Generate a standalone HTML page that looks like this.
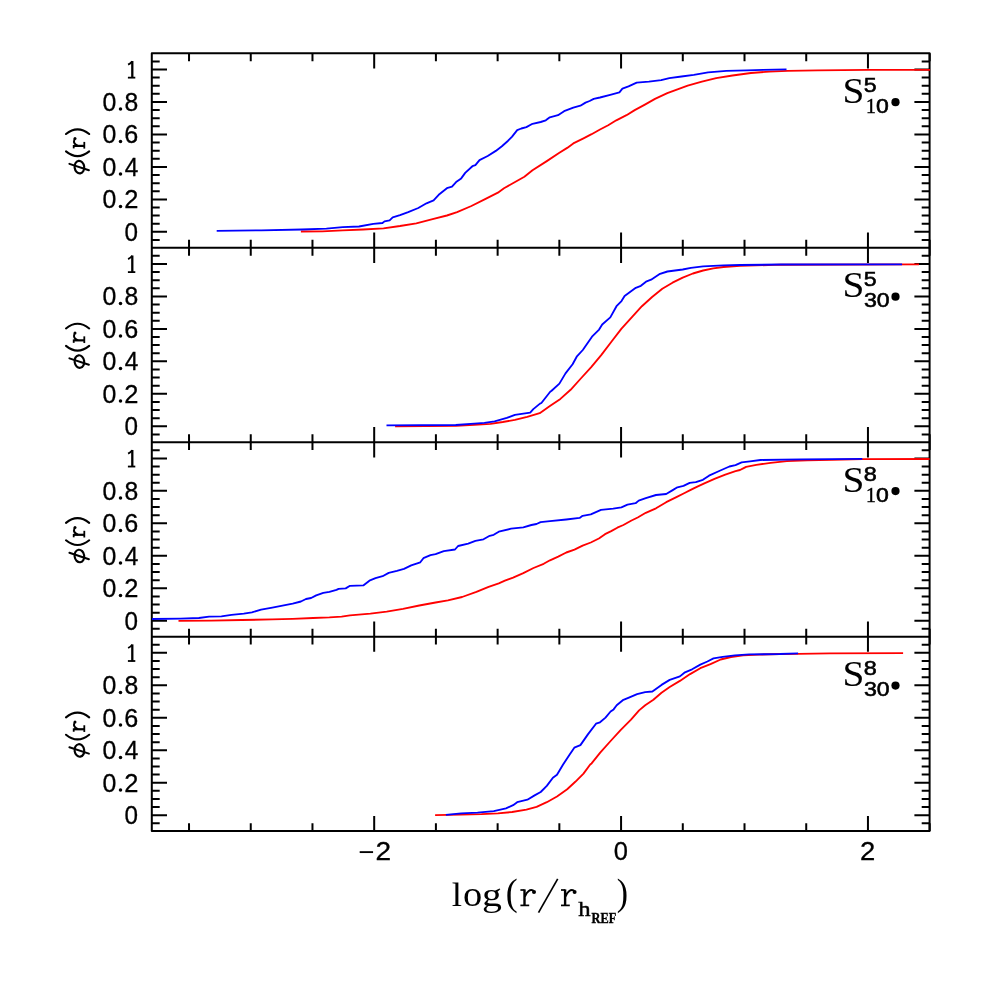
<!DOCTYPE html>
<html><head><meta charset="utf-8"><title>chart</title>
<style>html,body{margin:0;padding:0;background:#fff;width:981px;height:981px;overflow:hidden}body{position:relative;font-family:"Liberation Sans",sans-serif}</style>
</head><body>
<svg width="981" height="981" viewBox="0 0 981 981" style="position:absolute;left:0;top:0;will-change:transform">
<rect width="981" height="981" fill="#fff"/>
<g stroke="#000" stroke-width="2" fill="none" stroke-linecap="butt">
<path d="M189.03,53.30v7.90M189.03,247.75v-7.90M250.75,53.30v7.90M250.75,247.75v-7.90M312.47,53.30v7.90M312.47,247.75v-7.90M374.19,53.30v15.20M374.19,247.75v-15.20M435.91,53.30v7.90M435.91,247.75v-7.90M497.63,53.30v7.90M497.63,247.75v-7.90M559.35,53.30v7.90M559.35,247.75v-7.90M621.07,53.30v15.20M621.07,247.75v-15.20M682.79,53.30v7.90M682.79,247.75v-7.90M744.51,53.30v7.90M744.51,247.75v-7.90M806.23,53.30v7.90M806.23,247.75v-7.90M867.95,53.30v15.20M867.95,247.75v-15.20M929.67,53.30v7.90M929.67,247.75v-7.90M151.80,239.97h7.90M929.60,239.97h-7.90M151.80,231.85h15.20M929.60,231.85h-15.20M151.80,223.73h7.90M929.60,223.73h-7.90M151.80,215.62h7.90M929.60,215.62h-7.90M151.80,207.50h7.90M929.60,207.50h-7.90M151.80,199.38h15.20M929.60,199.38h-15.20M151.80,191.26h7.90M929.60,191.26h-7.90M151.80,183.14h7.90M929.60,183.14h-7.90M151.80,175.03h7.90M929.60,175.03h-7.90M151.80,166.91h15.20M929.60,166.91h-15.20M151.80,158.79h7.90M929.60,158.79h-7.90M151.80,150.68h7.90M929.60,150.68h-7.90M151.80,142.56h7.90M929.60,142.56h-7.90M151.80,134.44h15.20M929.60,134.44h-15.20M151.80,126.32h7.90M929.60,126.32h-7.90M151.80,118.20h7.90M929.60,118.20h-7.90M151.80,110.09h7.90M929.60,110.09h-7.90M151.80,101.97h15.20M929.60,101.97h-15.20M151.80,93.85h7.90M929.60,93.85h-7.90M151.80,85.73h7.90M929.60,85.73h-7.90M151.80,77.62h7.90M929.60,77.62h-7.90M151.80,69.50h15.20M929.60,69.50h-15.20M151.80,61.38h7.90M929.60,61.38h-7.90M189.03,247.75v7.90M189.03,442.20v-7.90M250.75,247.75v7.90M250.75,442.20v-7.90M312.47,247.75v7.90M312.47,442.20v-7.90M374.19,247.75v15.20M374.19,442.20v-15.20M435.91,247.75v7.90M435.91,442.20v-7.90M497.63,247.75v7.90M497.63,442.20v-7.90M559.35,247.75v7.90M559.35,442.20v-7.90M621.07,247.75v15.20M621.07,442.20v-15.20M682.79,247.75v7.90M682.79,442.20v-7.90M744.51,247.75v7.90M744.51,442.20v-7.90M806.23,247.75v7.90M806.23,442.20v-7.90M867.95,247.75v15.20M867.95,442.20v-15.20M929.67,247.75v7.90M929.67,442.20v-7.90M151.80,434.42h7.90M929.60,434.42h-7.90M151.80,426.30h15.20M929.60,426.30h-15.20M151.80,418.18h7.90M929.60,418.18h-7.90M151.80,410.06h7.90M929.60,410.06h-7.90M151.80,401.95h7.90M929.60,401.95h-7.90M151.80,393.83h15.20M929.60,393.83h-15.20M151.80,385.71h7.90M929.60,385.71h-7.90M151.80,377.59h7.90M929.60,377.59h-7.90M151.80,369.48h7.90M929.60,369.48h-7.90M151.80,361.36h15.20M929.60,361.36h-15.20M151.80,353.24h7.90M929.60,353.24h-7.90M151.80,345.12h7.90M929.60,345.12h-7.90M151.80,337.01h7.90M929.60,337.01h-7.90M151.80,328.89h15.20M929.60,328.89h-15.20M151.80,320.77h7.90M929.60,320.77h-7.90M151.80,312.65h7.90M929.60,312.65h-7.90M151.80,304.54h7.90M929.60,304.54h-7.90M151.80,296.42h15.20M929.60,296.42h-15.20M151.80,288.30h7.90M929.60,288.30h-7.90M151.80,280.19h7.90M929.60,280.19h-7.90M151.80,272.07h7.90M929.60,272.07h-7.90M151.80,263.95h15.20M929.60,263.95h-15.20M151.80,255.83h7.90M929.60,255.83h-7.90M189.03,442.20v7.90M189.03,636.65v-7.90M250.75,442.20v7.90M250.75,636.65v-7.90M312.47,442.20v7.90M312.47,636.65v-7.90M374.19,442.20v15.20M374.19,636.65v-15.20M435.91,442.20v7.90M435.91,636.65v-7.90M497.63,442.20v7.90M497.63,636.65v-7.90M559.35,442.20v7.90M559.35,636.65v-7.90M621.07,442.20v15.20M621.07,636.65v-15.20M682.79,442.20v7.90M682.79,636.65v-7.90M744.51,442.20v7.90M744.51,636.65v-7.90M806.23,442.20v7.90M806.23,636.65v-7.90M867.95,442.20v15.20M867.95,636.65v-15.20M929.67,442.20v7.90M929.67,636.65v-7.90M151.80,628.87h7.90M929.60,628.87h-7.90M151.80,620.75h15.20M929.60,620.75h-15.20M151.80,612.63h7.90M929.60,612.63h-7.90M151.80,604.52h7.90M929.60,604.52h-7.90M151.80,596.40h7.90M929.60,596.40h-7.90M151.80,588.28h15.20M929.60,588.28h-15.20M151.80,580.16h7.90M929.60,580.16h-7.90M151.80,572.05h7.90M929.60,572.05h-7.90M151.80,563.93h7.90M929.60,563.93h-7.90M151.80,555.81h15.20M929.60,555.81h-15.20M151.80,547.69h7.90M929.60,547.69h-7.90M151.80,539.58h7.90M929.60,539.58h-7.90M151.80,531.46h7.90M929.60,531.46h-7.90M151.80,523.34h15.20M929.60,523.34h-15.20M151.80,515.22h7.90M929.60,515.22h-7.90M151.80,507.11h7.90M929.60,507.11h-7.90M151.80,498.99h7.90M929.60,498.99h-7.90M151.80,490.87h15.20M929.60,490.87h-15.20M151.80,482.75h7.90M929.60,482.75h-7.90M151.80,474.64h7.90M929.60,474.64h-7.90M151.80,466.52h7.90M929.60,466.52h-7.90M151.80,458.40h15.20M929.60,458.40h-15.20M151.80,450.28h7.90M929.60,450.28h-7.90M189.03,636.65v7.90M189.03,831.10v-7.90M250.75,636.65v7.90M250.75,831.10v-7.90M312.47,636.65v7.90M312.47,831.10v-7.90M374.19,636.65v15.20M374.19,831.10v-15.20M435.91,636.65v7.90M435.91,831.10v-7.90M497.63,636.65v7.90M497.63,831.10v-7.90M559.35,636.65v7.90M559.35,831.10v-7.90M621.07,636.65v15.20M621.07,831.10v-15.20M682.79,636.65v7.90M682.79,831.10v-7.90M744.51,636.65v7.90M744.51,831.10v-7.90M806.23,636.65v7.90M806.23,831.10v-7.90M867.95,636.65v15.20M867.95,831.10v-15.20M929.67,636.65v7.90M929.67,831.10v-7.90M151.80,823.32h7.90M929.60,823.32h-7.90M151.80,815.20h15.20M929.60,815.20h-15.20M151.80,807.08h7.90M929.60,807.08h-7.90M151.80,798.97h7.90M929.60,798.97h-7.90M151.80,790.85h7.90M929.60,790.85h-7.90M151.80,782.73h15.20M929.60,782.73h-15.20M151.80,774.61h7.90M929.60,774.61h-7.90M151.80,766.50h7.90M929.60,766.50h-7.90M151.80,758.38h7.90M929.60,758.38h-7.90M151.80,750.26h15.20M929.60,750.26h-15.20M151.80,742.14h7.90M929.60,742.14h-7.90M151.80,734.02h7.90M929.60,734.02h-7.90M151.80,725.91h7.90M929.60,725.91h-7.90M151.80,717.79h15.20M929.60,717.79h-15.20M151.80,709.67h7.90M929.60,709.67h-7.90M151.80,701.56h7.90M929.60,701.56h-7.90M151.80,693.44h7.90M929.60,693.44h-7.90M151.80,685.32h15.20M929.60,685.32h-15.20M151.80,677.20h7.90M929.60,677.20h-7.90M151.80,669.09h7.90M929.60,669.09h-7.90M151.80,660.97h7.90M929.60,660.97h-7.90M151.80,652.85h15.20M929.60,652.85h-15.20M151.80,644.73h7.90M929.60,644.73h-7.90"/>
</g>
<g stroke="#000" stroke-width="2" fill="none" stroke-linecap="butt" stroke-linejoin="round">
<rect x="151.80" y="53.30" width="777.80" height="777.80"/>
<line x1="151.80" y1="247.75" x2="929.60" y2="247.75"/>
<line x1="151.80" y1="442.20" x2="929.60" y2="442.20"/>
<line x1="151.80" y1="636.65" x2="929.60" y2="636.65"/>
</g>
<g fill="none" stroke-width="1.85" stroke-linejoin="round" stroke-linecap="butt">
<path d="M300.9,231.5 L322.3,231.3 L342.7,230.3 L363.1,229.5 L383.5,228.3 L400.0,226.0 L416.3,223.3 L432.6,219.2 L446.9,215.5 L457.1,212.1 L471.4,206.0 L485.6,198.8 L497.9,192.7 L504.0,188.2 L514.2,182.5 L524.4,176.8 L532.5,170.3 L546.8,161.1 L559.0,153.0 L567.2,147.9 L573.3,143.4 L583.5,138.3 L591.6,134.2 L600.0,129.5 L608.2,125.2 L616.3,120.3 L626.5,115.2 L634.7,110.1 L644.9,104.6 L655.0,98.9 L667.3,93.2 L677.5,89.3 L687.7,85.7 L701.9,81.6 L716.2,78.1 L732.5,75.5 L750.9,73.0 L769.2,71.6 L787.6,70.8 L817.5,70.4 L868.1,69.9 L930.1,69.9" stroke="#ff0000"/>
<path d="M216.7,230.9 L261.2,230.3 L301.9,229.5 L326.4,228.7 L342.7,227.1 L359.0,226.5 L373.3,223.8 L382.5,223.0 L384.5,221.4 L389.6,220.3 L392.7,217.3 L400.0,215.2 L408.2,212.1 L418.3,208.0 L426.5,203.3 L433.6,200.3 L438.7,194.8 L446.9,188.2 L452.0,186.6 L456.1,182.1 L461.2,178.4 L465.2,172.9 L472.4,166.2 L475.4,165.2 L479.5,160.1 L487.7,156.0 L495.8,150.9 L501.9,146.2 L508.1,140.7 L512.1,136.6 L517.2,130.1 L521.3,128.5 L526.4,127.1 L532.5,123.8 L540.7,122.0 L545.8,120.3 L549.8,117.3 L558.0,115.2 L564.1,111.2 L573.3,107.7 L580.4,105.7 L585.5,102.6 L589.6,101.0 L593.7,98.9 L600.0,97.5 L610.2,94.9 L619.4,92.4 L622.4,88.7 L628.5,86.3 L636.7,82.6 L648.9,81.6 L661.2,80.2 L669.3,78.1 L681.5,76.5 L693.8,74.9 L708.1,72.4 L726.4,70.8 L746.8,70.4 L763.1,69.8 L786.5,69.4" stroke="#0000ff"/>
<path d="M395.1,426.4 L455.8,425.8 L474.2,424.8 L490.5,423.8 L502.7,422.0 L514.9,419.9 L527.2,416.9 L539.7,413.2 L549.9,406.1 L560.4,398.9 L570.6,389.8 L580.8,378.5 L591.0,367.3 L601.2,355.1 L611.4,341.8 L621.5,328.6 L631.7,317.4 L641.9,306.2 L652.1,297.0 L662.3,288.8 L672.5,282.7 L682.7,277.6 L692.9,273.5 L703.1,270.5 L713.3,268.4 L723.5,267.0 L740.0,265.8 L780.8,264.7 L919.0,264.3" stroke="#ff0000"/>
<path d="M386.5,425.4 L455.8,425.0 L474.2,423.6 L484.4,422.8 L494.6,421.4 L506.8,417.9 L514.9,414.8 L530.2,412.6 L533.3,409.1 L540.0,403.6 L541.4,403.0 L550.2,391.8 L551.6,390.8 L559.4,383.6 L565.5,373.4 L572.6,364.3 L576.7,356.7 L582.8,350.0 L592.0,336.7 L599.1,329.6 L602.2,324.5 L610.3,317.4 L616.5,306.2 L621.5,301.1 L624.6,296.0 L635.8,287.8 L640.9,285.8 L646.0,281.7 L651.1,279.7 L659.3,274.2 L667.4,271.5 L682.7,269.5 L690.9,267.8 L703.1,266.4 L723.5,265.4 L740.0,265.0 L780.8,264.5 L902.1,264.3" stroke="#0000ff"/>
<path d="M178.5,620.8 L211.2,620.6 L241.7,620.0 L272.3,619.4 L292.7,618.8 L313.1,618.0 L329.4,617.4 L341.6,616.6 L350.0,615.3 L370.4,613.7 L386.7,611.7 L403.0,608.8 L419.3,605.5 L435.6,602.5 L447.9,600.4 L462.1,597.0 L476.4,591.9 L488.6,586.8 L498.8,583.3 L504.9,580.7 L513.1,577.6 L523.3,573.1 L533.5,568.0 L543.7,563.8 L550.0,560.3 L558.2,556.6 L566.3,552.5 L574.5,549.7 L582.6,545.6 L590.8,542.5 L598.9,538.5 L605.0,534.2 L611.2,531.1 L617.3,527.7 L623.4,525.0 L631.5,520.5 L637.7,517.5 L645.8,512.8 L656.0,508.3 L666.2,502.2 L676.4,497.1 L684.6,493.0 L690.7,489.9 L696.8,486.9 L704.9,483.2 L715.1,478.7 L725.3,474.7 L735.5,471.2 L740.0,470.0 L743.7,468.1 L746.1,466.9 L756.3,464.9 L770.6,462.8 L786.9,461.2 L807.3,460.4 L831.7,459.8 L862.3,459.2 L929.6,459.0" stroke="#ff0000"/>
<path d="M152.0,619.0 L180.6,618.6 L198.9,618.0 L209.1,616.6 L221.4,616.4 L231.5,614.9 L243.8,613.7 L251.9,612.3 L261.1,609.6 L272.3,607.6 L282.5,605.7 L292.7,603.7 L300.9,601.5 L306.0,599.0 L311.1,598.0 L316.2,595.4 L323.3,592.9 L329.4,591.9 L336.5,589.8 L338.6,588.8 L345.7,588.4 L350.0,585.8 L363.3,585.4 L369.4,580.7 L375.5,578.2 L382.6,576.2 L388.7,572.9 L396.9,570.9 L404.0,568.8 L411.2,565.4 L420.3,562.3 L423.4,558.2 L430.5,555.2 L435.6,554.2 L443.8,551.1 L455.0,549.5 L458.1,546.0 L468.2,543.6 L475.4,540.9 L483.5,539.3 L489.7,535.8 L493.7,534.8 L498.8,531.7 L511.1,528.7 L523.3,527.3 L531.4,525.0 L536.5,524.0 L540.6,522.2 L550.0,521.1 L566.3,519.5 L579.6,517.9 L582.6,515.8 L590.8,514.4 L601.0,509.9 L613.2,508.7 L621.4,507.3 L627.5,504.6 L635.6,503.2 L638.7,500.6 L645.8,498.1 L656.0,495.0 L666.2,494.0 L672.3,490.4 L677.4,487.3 L683.5,485.9 L689.7,482.8 L695.8,482.2 L702.9,479.8 L709.0,475.7 L719.2,471.0 L729.4,466.5 L735.5,465.1 L741.6,462.4 L750.0,461.4 L760.4,460.0 L801.2,459.4 L862.3,458.8" stroke="#0000ff"/>
<path d="M435.1,815.2 L461.2,814.6 L481.5,814.2 L497.9,813.4 L512.1,812.0 L526.4,809.7 L536.6,806.9 L546.8,802.2 L557.0,796.5 L567.2,789.3 L575.3,781.8 L583.5,773.6 L590.2,764.5 L591.6,763.4 L600.2,752.7 L610.6,741.0 L620.8,729.8 L631.0,719.6 L639.1,710.4 L645.2,705.3 L653.4,699.8 L661.5,692.7 L669.7,687.0 L679.9,680.9 L690.1,674.1 L700.3,668.2 L710.5,664.2 L720.7,659.5 L730.9,657.0 L743.1,655.4 L759.4,654.6 L780.0,654.0 L798.1,653.8 L829.7,653.3 L903.1,653.1" stroke="#ff0000"/>
<path d="M445.9,814.8 L461.2,813.4 L477.5,812.6 L493.8,811.1 L506.0,808.3 L513.1,805.2 L517.2,802.2 L527.4,799.7 L534.6,795.4 L540.7,792.0 L546.8,785.9 L552.9,777.7 L557.0,774.7 L563.1,764.5 L569.2,755.3 L574.3,747.7 L580.4,745.1 L587.9,734.4 L596.0,723.7 L600.0,722.3 L605.5,717.6 L610.6,711.5 L613.6,709.4 L616.7,705.3 L622.8,700.2 L628.9,697.6 L637.1,694.1 L645.2,692.1 L652.4,691.5 L661.5,684.9 L669.7,679.9 L679.9,676.4 L685.0,672.3 L692.1,669.3 L700.3,664.6 L707.4,661.5 L713.5,658.4 L722.7,656.8 L734.9,655.4 L749.2,654.4 L780.0,654.0 L798.1,653.3" stroke="#0000ff"/>
</g>
<g fill="#000">
<text transform="translate(124.55,240.65) scale(0.2427,0.2514)" font-family="Liberation Sans" font-weight="normal" font-size="100" stroke="#000" stroke-width="1.24">0</text>
<text transform="translate(102.53,208.18) scale(0.2489,0.2514)" font-family="Liberation Sans" font-weight="normal" font-size="100" stroke="#000" stroke-width="1.21">0</text>
<circle cx="120.5" cy="206.53" r="1.75"/>
<text transform="translate(124.22,208.43) scale(0.2546,0.2549)" font-family="Liberation Sans" font-weight="normal" font-size="100" stroke="#000" stroke-width="1.18">2</text>
<text transform="translate(102.53,175.71) scale(0.2489,0.2514)" font-family="Liberation Sans" font-weight="normal" font-size="100" stroke="#000" stroke-width="1.21">0</text>
<circle cx="120.5" cy="174.06" r="1.75"/>
<text transform="translate(124.74,175.96) scale(0.2441,0.2587)" font-family="Liberation Sans" font-weight="normal" font-size="100" stroke="#000" stroke-width="1.23">4</text>
<text transform="translate(102.53,143.24) scale(0.2489,0.2514)" font-family="Liberation Sans" font-weight="normal" font-size="100" stroke="#000" stroke-width="1.21">0</text>
<circle cx="120.5" cy="141.59" r="1.75"/>
<text transform="translate(124.22,143.24) scale(0.2514,0.2514)" font-family="Liberation Sans" font-weight="normal" font-size="100" stroke="#000" stroke-width="1.19">6</text>
<text transform="translate(102.53,110.77) scale(0.2489,0.2514)" font-family="Liberation Sans" font-weight="normal" font-size="100" stroke="#000" stroke-width="1.21">0</text>
<circle cx="120.5" cy="109.12" r="1.75"/>
<text transform="translate(124.43,110.77) scale(0.2472,0.2514)" font-family="Liberation Sans" font-weight="normal" font-size="100" stroke="#000" stroke-width="1.21">8</text>
<g fill="none" stroke="#000"><path d="M132.3,61.05 V77.95" stroke-width="2.3"/><path d="M127.9,77.65 H135.3" stroke-width="1.8"/><path d="M128.1,64.65 Q130.8,63.35 132.2,61.35" stroke-width="1.9"/></g>
<text transform="translate(124.55,435.10) scale(0.2427,0.2514)" font-family="Liberation Sans" font-weight="normal" font-size="100" stroke="#000" stroke-width="1.24">0</text>
<text transform="translate(102.53,402.63) scale(0.2489,0.2514)" font-family="Liberation Sans" font-weight="normal" font-size="100" stroke="#000" stroke-width="1.21">0</text>
<circle cx="120.5" cy="400.98" r="1.75"/>
<text transform="translate(124.22,402.88) scale(0.2546,0.2549)" font-family="Liberation Sans" font-weight="normal" font-size="100" stroke="#000" stroke-width="1.18">2</text>
<text transform="translate(102.53,370.16) scale(0.2489,0.2514)" font-family="Liberation Sans" font-weight="normal" font-size="100" stroke="#000" stroke-width="1.21">0</text>
<circle cx="120.5" cy="368.51" r="1.75"/>
<text transform="translate(124.74,370.41) scale(0.2441,0.2587)" font-family="Liberation Sans" font-weight="normal" font-size="100" stroke="#000" stroke-width="1.23">4</text>
<text transform="translate(102.53,337.69) scale(0.2489,0.2514)" font-family="Liberation Sans" font-weight="normal" font-size="100" stroke="#000" stroke-width="1.21">0</text>
<circle cx="120.5" cy="336.04" r="1.75"/>
<text transform="translate(124.22,337.69) scale(0.2514,0.2514)" font-family="Liberation Sans" font-weight="normal" font-size="100" stroke="#000" stroke-width="1.19">6</text>
<text transform="translate(102.53,305.22) scale(0.2489,0.2514)" font-family="Liberation Sans" font-weight="normal" font-size="100" stroke="#000" stroke-width="1.21">0</text>
<circle cx="120.5" cy="303.57" r="1.75"/>
<text transform="translate(124.43,305.22) scale(0.2472,0.2514)" font-family="Liberation Sans" font-weight="normal" font-size="100" stroke="#000" stroke-width="1.21">8</text>
<g fill="none" stroke="#000"><path d="M132.3,255.50 V272.40" stroke-width="2.3"/><path d="M127.9,272.10 H135.3" stroke-width="1.8"/><path d="M128.1,259.10 Q130.8,257.80 132.2,255.80" stroke-width="1.9"/></g>
<text transform="translate(124.55,629.55) scale(0.2427,0.2514)" font-family="Liberation Sans" font-weight="normal" font-size="100" stroke="#000" stroke-width="1.24">0</text>
<text transform="translate(102.53,597.08) scale(0.2489,0.2514)" font-family="Liberation Sans" font-weight="normal" font-size="100" stroke="#000" stroke-width="1.21">0</text>
<circle cx="120.5" cy="595.43" r="1.75"/>
<text transform="translate(124.22,597.33) scale(0.2546,0.2549)" font-family="Liberation Sans" font-weight="normal" font-size="100" stroke="#000" stroke-width="1.18">2</text>
<text transform="translate(102.53,564.61) scale(0.2489,0.2514)" font-family="Liberation Sans" font-weight="normal" font-size="100" stroke="#000" stroke-width="1.21">0</text>
<circle cx="120.5" cy="562.96" r="1.75"/>
<text transform="translate(124.74,564.86) scale(0.2441,0.2587)" font-family="Liberation Sans" font-weight="normal" font-size="100" stroke="#000" stroke-width="1.23">4</text>
<text transform="translate(102.53,532.14) scale(0.2489,0.2514)" font-family="Liberation Sans" font-weight="normal" font-size="100" stroke="#000" stroke-width="1.21">0</text>
<circle cx="120.5" cy="530.49" r="1.75"/>
<text transform="translate(124.22,532.14) scale(0.2514,0.2514)" font-family="Liberation Sans" font-weight="normal" font-size="100" stroke="#000" stroke-width="1.19">6</text>
<text transform="translate(102.53,499.67) scale(0.2489,0.2514)" font-family="Liberation Sans" font-weight="normal" font-size="100" stroke="#000" stroke-width="1.21">0</text>
<circle cx="120.5" cy="498.02" r="1.75"/>
<text transform="translate(124.43,499.67) scale(0.2472,0.2514)" font-family="Liberation Sans" font-weight="normal" font-size="100" stroke="#000" stroke-width="1.21">8</text>
<g fill="none" stroke="#000"><path d="M132.3,449.95 V466.85" stroke-width="2.3"/><path d="M127.9,466.55 H135.3" stroke-width="1.8"/><path d="M128.1,453.55 Q130.8,452.25 132.2,450.25" stroke-width="1.9"/></g>
<text transform="translate(124.55,824.00) scale(0.2427,0.2514)" font-family="Liberation Sans" font-weight="normal" font-size="100" stroke="#000" stroke-width="1.24">0</text>
<text transform="translate(102.53,791.53) scale(0.2489,0.2514)" font-family="Liberation Sans" font-weight="normal" font-size="100" stroke="#000" stroke-width="1.21">0</text>
<circle cx="120.5" cy="789.88" r="1.75"/>
<text transform="translate(124.22,791.78) scale(0.2546,0.2549)" font-family="Liberation Sans" font-weight="normal" font-size="100" stroke="#000" stroke-width="1.18">2</text>
<text transform="translate(102.53,759.06) scale(0.2489,0.2514)" font-family="Liberation Sans" font-weight="normal" font-size="100" stroke="#000" stroke-width="1.21">0</text>
<circle cx="120.5" cy="757.41" r="1.75"/>
<text transform="translate(124.74,759.31) scale(0.2441,0.2587)" font-family="Liberation Sans" font-weight="normal" font-size="100" stroke="#000" stroke-width="1.23">4</text>
<text transform="translate(102.53,726.59) scale(0.2489,0.2514)" font-family="Liberation Sans" font-weight="normal" font-size="100" stroke="#000" stroke-width="1.21">0</text>
<circle cx="120.5" cy="724.94" r="1.75"/>
<text transform="translate(124.22,726.59) scale(0.2514,0.2514)" font-family="Liberation Sans" font-weight="normal" font-size="100" stroke="#000" stroke-width="1.19">6</text>
<text transform="translate(102.53,694.12) scale(0.2489,0.2514)" font-family="Liberation Sans" font-weight="normal" font-size="100" stroke="#000" stroke-width="1.21">0</text>
<circle cx="120.5" cy="692.47" r="1.75"/>
<text transform="translate(124.43,694.12) scale(0.2472,0.2514)" font-family="Liberation Sans" font-weight="normal" font-size="100" stroke="#000" stroke-width="1.21">8</text>
<g fill="none" stroke="#000"><path d="M132.3,644.40 V661.30" stroke-width="2.3"/><path d="M127.9,661.00 H135.3" stroke-width="1.8"/><path d="M128.1,648.00 Q130.8,646.70 132.2,644.70" stroke-width="1.9"/></g>
<text transform="translate(358.54,860.61) scale(0.2758,0.2665)" font-family="Liberation Sans" font-weight="normal" font-size="100">−</text>
<text transform="translate(375.59,860.40) scale(0.2810,0.2492)" font-family="Liberation Sans" font-weight="normal" font-size="100" stroke="#000" stroke-width="1.20">2</text>
<text transform="translate(613.80,860.36) scale(0.2552,0.2486)" font-family="Liberation Sans" font-weight="normal" font-size="100" stroke="#000" stroke-width="1.21">0</text>
<text transform="translate(860.02,860.40) scale(0.2744,0.2492)" font-family="Liberation Sans" font-weight="normal" font-size="100" stroke="#000" stroke-width="1.20">2</text>
</g>
<g transform="translate(0,0.00)" fill="none" stroke="#000" stroke-linecap="round" stroke-linejoin="round">
<path d="M66.0,134.0 Q77.5,124.6 89.2,134.0" stroke-width="2.1"/>
<path d="M66.0,151.4 Q77.5,160.8 89.2,151.4" stroke-width="2.1"/>
<path d="M73.7,145.9 H84.6" stroke-width="2.2" stroke-linecap="butt"/>
<path d="M84.3,141.9 V148.6" stroke-width="1.8" stroke-linecap="butt"/>
<path d="M73.7,145.0 V148.4" stroke-width="1.8" stroke-linecap="butt"/>
<path d="M77.6,145.6 C74.2,144.2 73.2,142.6 74.4,139.6" stroke-width="1.9"/>
<circle cx="75.0" cy="138.6" r="1.5" fill="#000" stroke="none"/>
<ellipse cx="79.4" cy="167.1" rx="4.8" ry="6.3" stroke-width="2.15" transform="rotate(-8 79.4 167.1)"/>
<path d="M69.4,163.9 L88.9,170.3" stroke-width="2.0"/>
</g>
<g transform="translate(0,194.45)" fill="none" stroke="#000" stroke-linecap="round" stroke-linejoin="round">
<path d="M66.0,134.0 Q77.5,124.6 89.2,134.0" stroke-width="2.1"/>
<path d="M66.0,151.4 Q77.5,160.8 89.2,151.4" stroke-width="2.1"/>
<path d="M73.7,145.9 H84.6" stroke-width="2.2" stroke-linecap="butt"/>
<path d="M84.3,141.9 V148.6" stroke-width="1.8" stroke-linecap="butt"/>
<path d="M73.7,145.0 V148.4" stroke-width="1.8" stroke-linecap="butt"/>
<path d="M77.6,145.6 C74.2,144.2 73.2,142.6 74.4,139.6" stroke-width="1.9"/>
<circle cx="75.0" cy="138.6" r="1.5" fill="#000" stroke="none"/>
<ellipse cx="79.4" cy="167.1" rx="4.8" ry="6.3" stroke-width="2.15" transform="rotate(-8 79.4 167.1)"/>
<path d="M69.4,163.9 L88.9,170.3" stroke-width="2.0"/>
</g>
<g transform="translate(0,388.90)" fill="none" stroke="#000" stroke-linecap="round" stroke-linejoin="round">
<path d="M66.0,134.0 Q77.5,124.6 89.2,134.0" stroke-width="2.1"/>
<path d="M66.0,151.4 Q77.5,160.8 89.2,151.4" stroke-width="2.1"/>
<path d="M73.7,145.9 H84.6" stroke-width="2.2" stroke-linecap="butt"/>
<path d="M84.3,141.9 V148.6" stroke-width="1.8" stroke-linecap="butt"/>
<path d="M73.7,145.0 V148.4" stroke-width="1.8" stroke-linecap="butt"/>
<path d="M77.6,145.6 C74.2,144.2 73.2,142.6 74.4,139.6" stroke-width="1.9"/>
<circle cx="75.0" cy="138.6" r="1.5" fill="#000" stroke="none"/>
<ellipse cx="79.4" cy="167.1" rx="4.8" ry="6.3" stroke-width="2.15" transform="rotate(-8 79.4 167.1)"/>
<path d="M69.4,163.9 L88.9,170.3" stroke-width="2.0"/>
</g>
<g transform="translate(0,583.35)" fill="none" stroke="#000" stroke-linecap="round" stroke-linejoin="round">
<path d="M66.0,134.0 Q77.5,124.6 89.2,134.0" stroke-width="2.1"/>
<path d="M66.0,151.4 Q77.5,160.8 89.2,151.4" stroke-width="2.1"/>
<path d="M73.7,145.9 H84.6" stroke-width="2.2" stroke-linecap="butt"/>
<path d="M84.3,141.9 V148.6" stroke-width="1.8" stroke-linecap="butt"/>
<path d="M73.7,145.0 V148.4" stroke-width="1.8" stroke-linecap="butt"/>
<path d="M77.6,145.6 C74.2,144.2 73.2,142.6 74.4,139.6" stroke-width="1.9"/>
<circle cx="75.0" cy="138.6" r="1.5" fill="#000" stroke="none"/>
<ellipse cx="79.4" cy="167.1" rx="4.8" ry="6.3" stroke-width="2.15" transform="rotate(-8 79.4 167.1)"/>
<path d="M69.4,163.9 L88.9,170.3" stroke-width="2.0"/>
</g>
<g fill="#000">
<text transform="translate(842.47,102.75) scale(0.3932,0.3542)" font-family="Liberation Serif" font-weight="normal" font-size="100">S</text>
<text transform="translate(863.87,91.81) scale(0.2320,0.1978)" font-family="Liberation Sans" font-weight="normal" font-size="100" stroke="#000" stroke-width="2.78">5</text>
<text transform="translate(865.98,112.60) scale(0.1960,0.2075)" font-family="Liberation Serif" font-weight="normal" font-size="100" stroke="#000" stroke-width="2.55">1</text>
<text transform="translate(876.00,112.61) scale(0.2301,0.1992)" font-family="Liberation Sans" font-weight="normal" font-size="100" stroke="#000" stroke-width="2.76">0</text>
<circle cx="895.5" cy="102.2" r="4.1"/>
</g>
<g fill="#000">
<text transform="translate(842.47,297.20) scale(0.3932,0.3542)" font-family="Liberation Serif" font-weight="normal" font-size="100">S</text>
<text transform="translate(863.87,286.26) scale(0.2320,0.1978)" font-family="Liberation Sans" font-weight="normal" font-size="100" stroke="#000" stroke-width="2.78">5</text>
<text transform="translate(864.02,306.95) scale(0.2320,0.2006)" font-family="Liberation Sans" font-weight="normal" font-size="100" stroke="#000" stroke-width="2.74">3</text>
<text transform="translate(876.80,306.95) scale(0.2301,0.2006)" font-family="Liberation Sans" font-weight="normal" font-size="100" stroke="#000" stroke-width="2.74">0</text>
<circle cx="895.5" cy="296.7" r="4.1"/>
</g>
<g fill="#000">
<text transform="translate(842.47,491.65) scale(0.3932,0.3542)" font-family="Liberation Serif" font-weight="normal" font-size="100">S</text>
<text transform="translate(863.78,480.71) scale(0.2344,0.1949)" font-family="Liberation Sans" font-weight="normal" font-size="100" stroke="#000" stroke-width="2.82">8</text>
<text transform="translate(865.98,501.50) scale(0.1960,0.2075)" font-family="Liberation Serif" font-weight="normal" font-size="100" stroke="#000" stroke-width="2.55">1</text>
<text transform="translate(876.00,501.51) scale(0.2301,0.1992)" font-family="Liberation Sans" font-weight="normal" font-size="100" stroke="#000" stroke-width="2.76">0</text>
<circle cx="895.5" cy="491.1" r="4.1"/>
</g>
<g fill="#000">
<text transform="translate(842.47,686.10) scale(0.3932,0.3542)" font-family="Liberation Serif" font-weight="normal" font-size="100">S</text>
<text transform="translate(863.78,675.16) scale(0.2344,0.1949)" font-family="Liberation Sans" font-weight="normal" font-size="100" stroke="#000" stroke-width="2.82">8</text>
<text transform="translate(864.02,695.85) scale(0.2320,0.2006)" font-family="Liberation Sans" font-weight="normal" font-size="100" stroke="#000" stroke-width="2.74">3</text>
<text transform="translate(876.80,695.85) scale(0.2301,0.2006)" font-family="Liberation Sans" font-weight="normal" font-size="100" stroke="#000" stroke-width="2.74">0</text>
<circle cx="895.5" cy="685.6" r="4.1"/>
</g>
<g fill="#000">
<text transform="translate(451.86,906.30) scale(0.3701,0.3473)" font-family="Liberation Serif" font-weight="normal" font-size="100">l</text>
<text transform="translate(463.04,906.36) scale(0.3846,0.3514)" font-family="Liberation Serif" font-weight="normal" font-size="100">o</text>
<text transform="translate(482.09,906.18) scale(0.3973,0.3347)" font-family="Liberation Serif" font-weight="normal" font-size="100">g</text>
<text transform="translate(505.73,905.08) scale(0.3582,0.3816)" font-family="Liberation Serif" font-weight="normal" font-size="100">(</text>
<g transform="translate(-40.6,0)" fill="none" stroke="#000"><path d="M565.1,889.4 V906.0" stroke-width="2.4"/><path d="M561.0,905.4 H569.8" stroke-width="1.7"/><path d="M561.0,890.0 H565.1" stroke-width="1.7"/><path d="M565.8,896.0 C567.3,891.8 570.4,889.2 573.6,890.4" stroke-width="2.0" stroke-linecap="round"/><circle cx="574.6" cy="892.1" r="2.0" fill="#000" stroke="none"/></g>
<line x1="538.5" y1="912.6" x2="557.7" y2="878.9" stroke="#000" stroke-width="1.7"/>
<g transform="translate(0.0,0)" fill="none" stroke="#000"><path d="M565.1,889.4 V906.0" stroke-width="2.4"/><path d="M561.0,905.4 H569.8" stroke-width="1.7"/><path d="M561.0,890.0 H565.1" stroke-width="1.7"/><path d="M565.8,896.0 C567.3,891.8 570.4,889.2 573.6,890.4" stroke-width="2.0" stroke-linecap="round"/><circle cx="574.6" cy="892.1" r="2.0" fill="#000" stroke="none"/></g>
<text transform="translate(578.36,916.30) scale(0.2474,0.2176)" font-family="Liberation Serif" font-weight="normal" font-size="100" stroke="#000" stroke-width="1.84">h</text>
<text transform="translate(591.49,922.50) scale(0.1235,0.1542)" font-family="Liberation Serif" font-weight="bold" font-size="100" stroke="#000" stroke-width="2.83">REF</text>
<text transform="translate(616.81,904.93) scale(0.3387,0.3838)" font-family="Liberation Serif" font-weight="normal" font-size="100">)</text>
</g>
</svg>
</body></html>
